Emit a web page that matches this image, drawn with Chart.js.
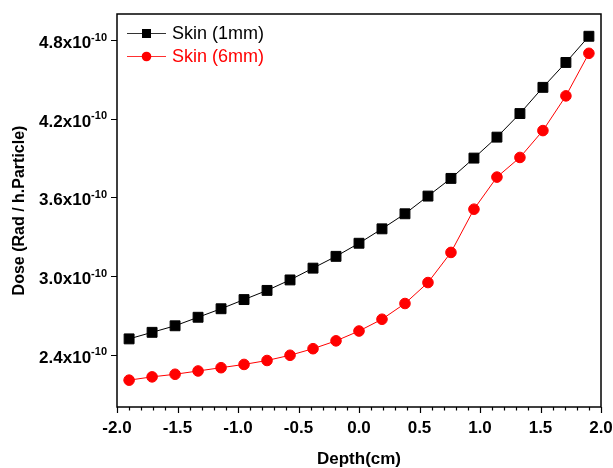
<!DOCTYPE html>
<html>
<head>
<meta charset="utf-8">
<script src="https://cdn.jsdelivr.net/npm/chart.js@4"></script>
<style>
  body { margin: 0; background: #fff; }
  canvas { display: block; }
</style>
</head>
<body>
<canvas id="myChart" width="613" height="468"></canvas>
<script>
  // depth positions (cm)
  const depth = [-1.9, -1.71, -1.52, -1.33, -1.14, -0.95, -0.76, -0.57, -0.38, -0.19, 0, 0.19, 0.38, 0.57, 0.76, 0.95, 1.14, 1.33, 1.52, 1.71, 1.9];
  // dose values in units of 1e-10 Rad / h.Particle
  const skin1mm = [2.52, 2.57, 2.62, 2.685, 2.75, 2.82, 2.89, 2.97, 3.06, 3.15, 3.25, 3.36, 3.475, 3.61, 3.745, 3.90, 4.06, 4.24, 4.44, 4.63, 4.83];
  const skin6mm = [2.205, 2.23, 2.25, 2.275, 2.30, 2.325, 2.355, 2.395, 2.445, 2.505, 2.58, 2.67, 2.79, 2.95, 3.18, 3.51, 3.755, 3.905, 4.11, 4.375, 4.70];
  const xTicks = [-2.0, -1.5, -1.0, -0.5, 0.0, 0.5, 1.0, 1.5, 2.0];
  const yTicks = [2.4, 3.0, 3.6, 4.2, 4.8];
  const seriesNames = ['Skin (1mm)', 'Skin (6mm)'];

  const boldFont = function (size) { return 'bold ' + size + 'px "Liberation Sans", Arial, sans-serif'; };

  const axesPlugin = {
    id: 'originAxes',
    afterDraw: function (chart) {
      const ctx = chart.ctx;
      const area = chart.chartArea;
      const xs = chart.scales.x;
      const ys = chart.scales.y;
      ctx.save();

      // frame
      ctx.strokeStyle = '#000';
      ctx.lineWidth = 1.5;
      ctx.strokeRect(area.left, area.top, area.right - area.left, area.bottom - area.top);

      // x ticks, major + minor
      ctx.lineWidth = 1.2;
      ctx.beginPath();
      for (var i = -20; i <= 20; i++) {
        var px = Math.round(xs.getPixelForValue(i / 10)) + 0.5;
        var len = (i % 5 === 0) ? 6 : 3.5;
        ctx.moveTo(px, area.bottom);
        ctx.lineTo(px, area.bottom + len);
      }
      // y ticks
      yTicks.forEach(function (v) {
        var py = Math.round(ys.getPixelForValue(v)) + 0.5;
        ctx.moveTo(area.left, py);
        ctx.lineTo(area.left - 6, py);
      });
      ctx.stroke();

      // x tick labels
      ctx.fillStyle = '#000';
      ctx.font = boldFont(17);
      ctx.textAlign = 'center';
      ctx.textBaseline = 'alphabetic';
      xTicks.forEach(function (v) {
        ctx.fillText(v.toFixed(1), xs.getPixelForValue(v), 433);
      });

      // y tick labels with exponent
      yTicks.forEach(function (v) {
        var py = ys.getPixelForValue(v);
        ctx.font = boldFont(11);
        var sup = '-10';
        var supW = ctx.measureText(sup).width;
        ctx.textAlign = 'left';
        ctx.fillText(sup, 107 - supW, py + 0.5);
        ctx.font = boldFont(17);
        ctx.textAlign = 'right';
        ctx.fillText(v.toFixed(1) + 'x10', 107 - supW, py + 8);
      });

      // axis titles
      ctx.font = boldFont(17);
      ctx.textAlign = 'center';
      ctx.fillText('Depth(cm)', (area.left + area.right) / 2, 464);

      ctx.save();
      ctx.translate(24, (area.top + area.bottom) / 2);
      ctx.rotate(-Math.PI / 2);
      ctx.font = boldFont(16);
      ctx.fillText('Dose (Rad / h.Particle)', 0, 0);
      ctx.restore();

      // legend
      var rows = [
        { y: 33, color: '#000', line: '#333', shape: 'rect' },
        { y: 56, color: '#ff0000', line: '#ff3030', shape: 'circle' }
      ];
      rows.forEach(function (r, k) {
        ctx.strokeStyle = r.line;
        ctx.lineWidth = 1;
        ctx.beginPath();
        ctx.moveTo(127, r.y + 0.5);
        ctx.lineTo(166, r.y + 0.5);
        ctx.stroke();
        ctx.fillStyle = r.color;
        if (r.shape === 'rect') {
          ctx.fillRect(142, r.y - 4, 9, 9);
        } else {
          ctx.beginPath();
          ctx.arc(146.5, r.y + 0.5, 4.8, 0, Math.PI * 2);
          ctx.fill();
        }
        ctx.font = '18px "Liberation Sans", Arial, sans-serif';
        ctx.textAlign = 'left';
        ctx.textBaseline = 'middle';
        ctx.fillText(seriesNames[k], 172, r.y + 1);
        ctx.textBaseline = 'alphabetic';
      });

      ctx.restore();
    }
  };

  const ctx1 = document.getElementById('myChart');
  new Chart(ctx1, {
    type: 'line',
    data: {
      labels: depth,
      datasets: [{
        label: seriesNames[0],
        data: depth.map(function (d, i) { return { x: d, y: skin1mm[i] }; }),
        borderColor: '#000',
        borderWidth: 1,
        backgroundColor: '#000',
        pointStyle: 'rect',
        pointRadius: 7,
        pointBorderWidth: 1,
        pointBorderColor: '#000',
        pointBackgroundColor: '#000',
        tension: 0
      }, {
        label: seriesNames[1],
        data: depth.map(function (d, i) { return { x: d, y: skin6mm[i] }; }),
        borderColor: '#ff0000',
        borderWidth: 1,
        backgroundColor: '#ff0000',
        pointStyle: 'circle',
        pointRadius: 5.3,
        pointBorderWidth: 1,
        pointBorderColor: '#ff0000',
        pointBackgroundColor: '#ff0000',
        tension: 0
      }]
    },
    options: {
      responsive: false,
      animation: false,
      layout: {
        padding: { left: 117, top: 14, right: 12, bottom: 61 }
      },
      scales: {
        x: { type: 'linear', min: -2, max: 2, display: false },
        y: { type: 'linear', min: 2.0, max: 5.0, display: false }
      },
      plugins: {
        legend: { display: false },
        tooltip: { enabled: false }
      }
    },
    plugins: [axesPlugin]
  });
</script>
</body>
</html>
